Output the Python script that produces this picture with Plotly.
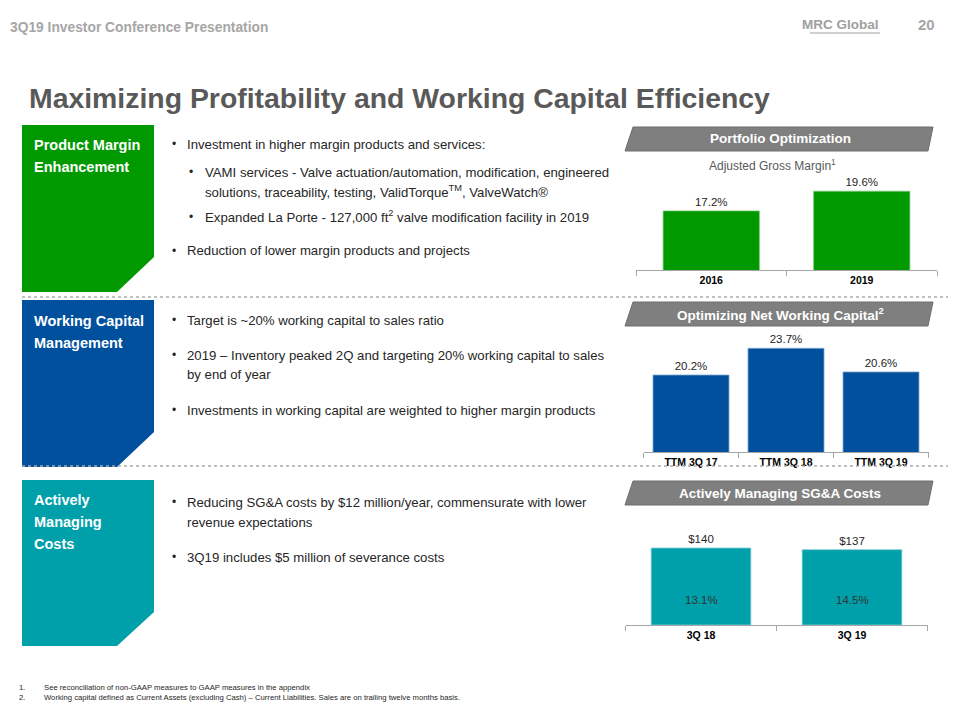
import plotly.graph_objects as go

# ---------------- data ----------------
margin_years = ["2016", "2019"]
margin_vals = [17.2, 19.6]
nwc_periods = ["TTM 3Q 17", "TTM 3Q 18", "TTM 3Q 19"]
nwc_vals = [20.2, 23.7, 20.6]
sga_quarters = ["3Q 18", "3Q 19"]
sga_vals = [140, 137]
sga_pct = [13.1, 14.5]

# page has an 8px body margin -> figure is 952x712 and coordinates are offset
OFF = 8
W, H = 960 - OFF, 720 - OFF
def px(x): return (x - OFF) / W
def py(y): return 1 - (y - OFF) / H

FONT = "Liberation Sans, Arial, sans-serif"
GREEN = "#009900"
BLUE = "#00509E"
TEAL = "#00A0AA"
BANNER = "#7F7F7F"
TXT = "#262626"

fig = go.Figure()

# ---------------- bars ----------------
VAL_FONT = dict(family=FONT, size=11.5, color=TXT)
fig.add_trace(go.Bar(x=margin_years, y=margin_vals, xaxis="x", yaxis="y",
                     marker=dict(color=GREEN, line=dict(color="#7fcc7f", width=0.8)), width=0.64,
                     text=[f"{v}%" for v in margin_vals], textposition="outside",
                     constraintext="none", textfont=VAL_FONT, hoverinfo="skip"))
fig.add_trace(go.Bar(x=nwc_periods, y=nwc_vals, xaxis="x2", yaxis="y2",
                     marker=dict(color=BLUE, line=dict(color="#7fa7ce", width=0.8)), width=0.8,
                     text=[f"{v}%" for v in nwc_vals], textposition="outside",
                     constraintext="none", textfont=VAL_FONT, hoverinfo="skip"))
fig.add_trace(go.Bar(x=sga_quarters, y=sga_vals, xaxis="x3", yaxis="y3",
                     marker=dict(color=TEAL, line=dict(color="#7fcfd4", width=0.8)), width=0.66,
                     text=[f"${v}" for v in sga_vals], textposition="outside",
                     constraintext="none", textfont=VAL_FONT, hoverinfo="skip"))

axis_common = dict(showline=True, linecolor="#A6A6A6", linewidth=1, ticks="outside",
                   tickson="boundaries", ticklen=5, tickcolor="#A6A6A6", showgrid=False,
                   tickfont=dict(family=FONT, size=10.5, color="#000000", weight="bold"),
                   fixedrange=True)

fig.update_layout(
    width=W, height=H, margin=dict(l=0, r=0, t=0, b=0),
    paper_bgcolor="white", plot_bgcolor="rgba(0,0,0,0)", showlegend=False,
    xaxis=dict(domain=[px(636), px(937)], anchor="y", **axis_common),
    yaxis=dict(domain=[py(270), py(165)], range=[10.0, 10.0 + 105 / 8.21], visible=False, fixedrange=True),
    xaxis2=dict(domain=[px(643.5), px(928.5)], anchor="y2", **axis_common),
    yaxis2=dict(domain=[py(452.3), py(330)], range=[10.07, 10.07 + 122.3 / 7.63], visible=False, fixedrange=True),
    xaxis3=dict(domain=[px(625.5), px(927.5)], anchor="y3", **axis_common),
    yaxis3=dict(domain=[py(625), py(515)], range=[0, 110 / 0.55], visible=False, fixedrange=True),
)

shapes = []
annotations = []

def poly(points, color, line_color=None):
    d = "M " + " L ".join(f"{px(x)},{py(y)}" for x, y in points) + " Z"
    shapes.append(dict(type="path", xref="paper", yref="paper", path=d, fillcolor=color,
                       line=dict(color=line_color or color, width=1 if line_color else 0), layer="below"))

def text(x, y, s, size=13.2, color=TXT, bold=False, italic=False, xanchor="left", yanchor="middle"):
    annotations.append(dict(x=px(x), y=py(y), xref="paper", yref="paper", text=s, showarrow=False,
                            xanchor=xanchor, yanchor=yanchor, align="left",
                            font=dict(family=FONT, size=size, color=color,
                                      weight="bold" if bold else "normal",
                                      style="italic" if italic else "normal")))

# ---------------- header ----------------
text(8, 27, "3Q19 Investor Conference Presentation", size=13.8, color="#A6A6A6", bold=True)
text(881, 24, "MRC Global", size=13.5, color="#A0A0A0", bold=True, xanchor="right")
shapes.append(dict(type="line", xref="paper", yref="paper", x0=px(810), x1=px(880), y0=py(33), y1=py(33),
                   line=dict(color="#A0A0A0", width=1)))
text(937, 24, "20", size=15, color="#A6A6A6", bold=True, xanchor="right")
text(27, 98, "Maximizing Profitability and Working Capital Efficiency", size=28.4, color="#595959", bold=True)

# ---------------- left boxes ----------------
poly([(22, 125), (154, 125), (154, 257), (117, 292), (22, 292)], GREEN)
poly([(22, 300), (154, 300), (154, 432), (117, 467), (22, 467)], BLUE)
poly([(22, 480), (154, 480), (154, 612), (117, 646), (22, 646)], TEAL)

BOX = 14.5
text(32, 145, "Product Margin", size=BOX, color="white", bold=True)
text(32, 167, "Enhancement", size=BOX, color="white", bold=True)
text(32, 321, "Working Capital", size=BOX, color="white", bold=True)
text(32, 343, "Management", size=BOX, color="white", bold=True)
text(32, 500, "Actively", size=BOX, color="white", bold=True)
text(32, 522, "Managing", size=BOX, color="white", bold=True)
text(32, 544, "Costs", size=BOX, color="white", bold=True)

# ---------------- separators ----------------
for yy in (297, 466):
    shapes.append(dict(type="line", xref="paper", yref="paper", x0=px(22), x1=px(948), y0=py(yy), y1=py(yy),
                       line=dict(color="#AAAAAA", width=1.5, dash="dot")))

# ---------------- bullet text ----------------
def bullet(bx, tx, y, s):
    text(bx, y, "•", size=12)
    text(tx, y, s)

bullet(170, 185, 144, "Investment in higher margin products and services:")
bullet(187, 203, 172, "VAMI services - Valve actuation/automation, modification, engineered")
text(203, 191, "solutions, traceability, testing, ValidTorque<sup>TM</sup>, ValveWatch®")
bullet(187, 203, 217, "Expanded La Porte - 127,000 ft<sup>2</sup> valve modification facility in 2019")
bullet(170, 185, 251, "Reduction of lower margin products and projects")

bullet(170, 185, 320, "Target is ~20% working capital to sales ratio")
bullet(170, 185, 355, "2019 – Inventory peaked 2Q and targeting 20% working capital to sales")
text(185, 374, "by end of year")
bullet(170, 185, 410, "Investments in working capital are weighted to higher margin products")

bullet(170, 185, 502, "Reducing SG&A costs by $12 million/year, commensurate with lower")
text(185, 522, "revenue expectations")
bullet(170, 185, 557, "3Q19 includes $5 million of severance costs")

# ---------------- chart banners ----------------
BAN = 13.5
poly([(625, 151), (633, 127), (933, 127), (928, 151)], BANNER, "#6E6E6E")
text(780, 139, "Portfolio Optimization", size=BAN, color="white", bold=True, xanchor="center")
poly([(625, 326), (633, 302), (933, 302), (928, 326)], BANNER, "#6E6E6E")
text(780, 314, "Optimizing Net Working Capital<sup>2</sup>", size=BAN, color="white", bold=True, xanchor="center")
poly([(625, 505), (633, 481), (933, 481), (928, 505)], BANNER, "#6E6E6E")
text(780, 493, "Actively Managing SG&A Costs", size=BAN, color="white", bold=True, xanchor="center")

text(772, 165, "Adjusted Gross Margin<sup>1</sup>", size=12, color="#595959", xanchor="center")

# inside labels for SG&A chart
for q, p in zip(sga_quarters, sga_pct):
    annotations.append(dict(x=q, y=0, xref="x3", yref="y3", text=f"{p}%", showarrow=False,
                            yanchor="bottom", yshift=17,
                            font=dict(family=FONT, size=11.5, color="#333333")))

# ---------------- footnotes ----------------
FN = 7.7
text(17, 687, "1.", size=FN)
text(42, 687, "See reconciliation of non-GAAP measures to GAAP measures in the appendix", size=FN)
text(17, 697, "2.", size=FN)
text(42, 697, "Working capital defined as Current Assets (excluding Cash) – Current Liabilities. Sales are on trailing twelve months basis.", size=FN)

fig.update_layout(shapes=shapes, annotations=annotations)
fig.write_html("out.html")
